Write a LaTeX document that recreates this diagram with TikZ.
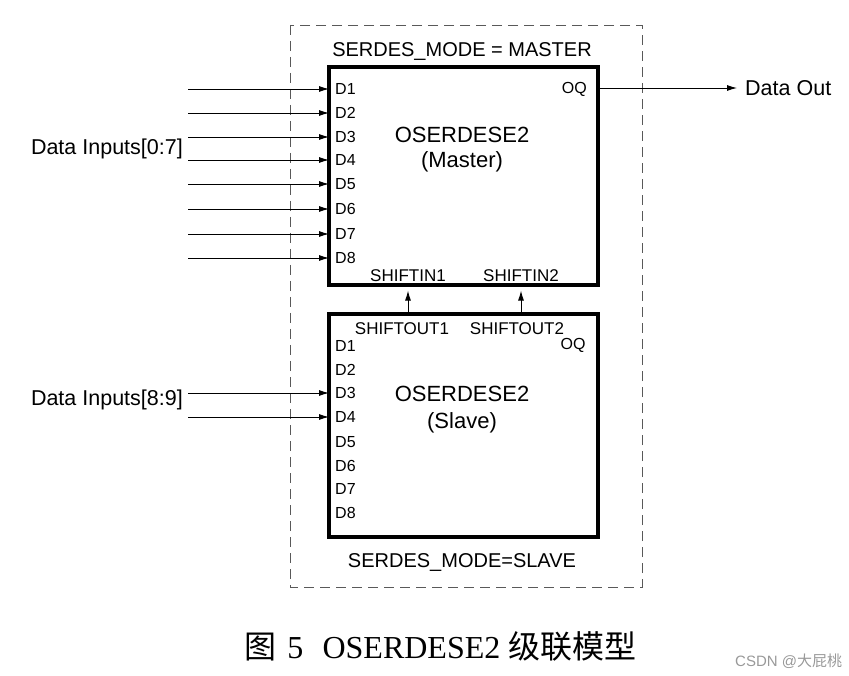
\documentclass[tikz,border=0pt]{standalone}
\usepackage{fontspec}
\setmainfont{Liberation Sans}
\newfontfamily\capfont{Liberation Serif}
\newfontfamily\cjk{Noto Sans CJK SC}
\usetikzlibrary{arrows.meta}
\newcommand{\fs}[1]{\fontsize{#1}{#1}\selectfont}

\begin{document}
\begin{tikzpicture}[x=1pt,y=-1pt,>={Latex[length=10pt,width=6pt]},
    blk/.style={draw,line width=3.2pt,minimum width=269pt,inner sep=0pt},
    pin/.style={anchor=west,inner xsep=6pt,inner ysep=0pt,font=\fs{16}},
    lbl/.style={anchor=base,inner sep=0pt},
    wire/.style={line width=0.9pt}]
    \useasboundingbox (0,0) rectangle (849,676);
    \draw[gray!70!black,line width=0.9pt,dash pattern=on 10pt off 6pt] (290,25) rectangle (642,587);
    \node[blk,minimum height=218pt] (master) at (463.5,176) {};
    \node[blk,minimum height=223pt] (slave) at (463.5,425.5) {};

    \node[lbl,font=\fs{20}] (mmode) at (462,57) {SERDES\_MODE = MASTER};
    \node[lbl,font=\fs{22}] (mname) at (462,143) {OSERDESE2};
    \node[lbl,font=\fs{22}] (mrole) at (462,168) {(Master)};
    \node[lbl,font=\fs{20}] (smode) at (462,567) {SERDES\_MODE=SLAVE};
    \node[lbl,font=\fs{22}] (sname) at (462,402) {OSERDESE2};
    \node[lbl,font=\fs{22}] (srole) at (462,428) {(Slave)};

    \foreach \i/\y in {1/89,2/113,3/137,4/160,5/184,6/209,7/234,8/258} {
        \node[pin] (md\i) at (329,\y) {D\i};
        \coordinate (mi\i) at (188,\y);
        \draw[wire,->] (mi\i) -- (md\i.west);
    }
    \foreach \i/\y in {1/346,2/370,3/393,4/417,5/442,6/466,7/489,8/513}
        \node[pin] (sd\i) at (329,\y) {D\i};
    \foreach \i in {3,4} {
        \coordinate (si\i) at (188,0 |- sd\i);
        \draw[wire,->] (si\i) -- (sd\i.west);
    }

    \node[anchor=east,inner sep=0pt,font=\fs{16}] (mq) at (587,89) {OQ};
    \node[anchor=base,inner sep=0pt,font=\fs{16}] (sq) at (573,350) {OQ};
    \node[anchor=west,inner xsep=8pt,inner ysep=0pt,font=\fs{21.5}] (dout) at (737,88) {Data Out};
    \draw[wire,->] (master.east |- dout) -- (dout.west);

    \node[lbl,font=\fs{17}] (shin1) at (408,282) {SHIFTIN1};
    \node[lbl,font=\fs{17}] (shin2) at (521,282) {SHIFTIN2};
    \node[lbl,font=\fs{17}] (shout1) at (402,335) {SHIFTOUT1};
    \node[lbl,font=\fs{17}] (shout2) at (517,335) {SHIFTOUT2};
    \draw[wire,->,shorten >=4pt] (slave.north -| shin1) -- (master.south -| shin1);
    \draw[wire,->,shorten >=4pt] (slave.north -| shin2) -- (master.south -| shin2);

    \node[anchor=base east,inner sep=0pt,font=\fs{21.5}] (din0) at (183,155) {Data Inputs[0:7]};
    \node[anchor=base east,inner sep=0pt,font=\fs{21.5}] (din1) at (183,405) {Data Inputs[8:9]};

    \node[anchor=base west,inner sep=0pt,font=\fs{32}\capfont] (cap) at (244,658)
        {{\cjk 图}\hspace{0.35em}5\hspace{0.6em}OSERDESE2\hspace{0.25em}{\cjk 级联模型}};
    \node[anchor=base west,inner sep=0pt,text=black!40,font=\fs{15}] (mark) at (735,666)
        {CSDN @{\cjk 大屁桃}};
\end{tikzpicture}
\end{document}
